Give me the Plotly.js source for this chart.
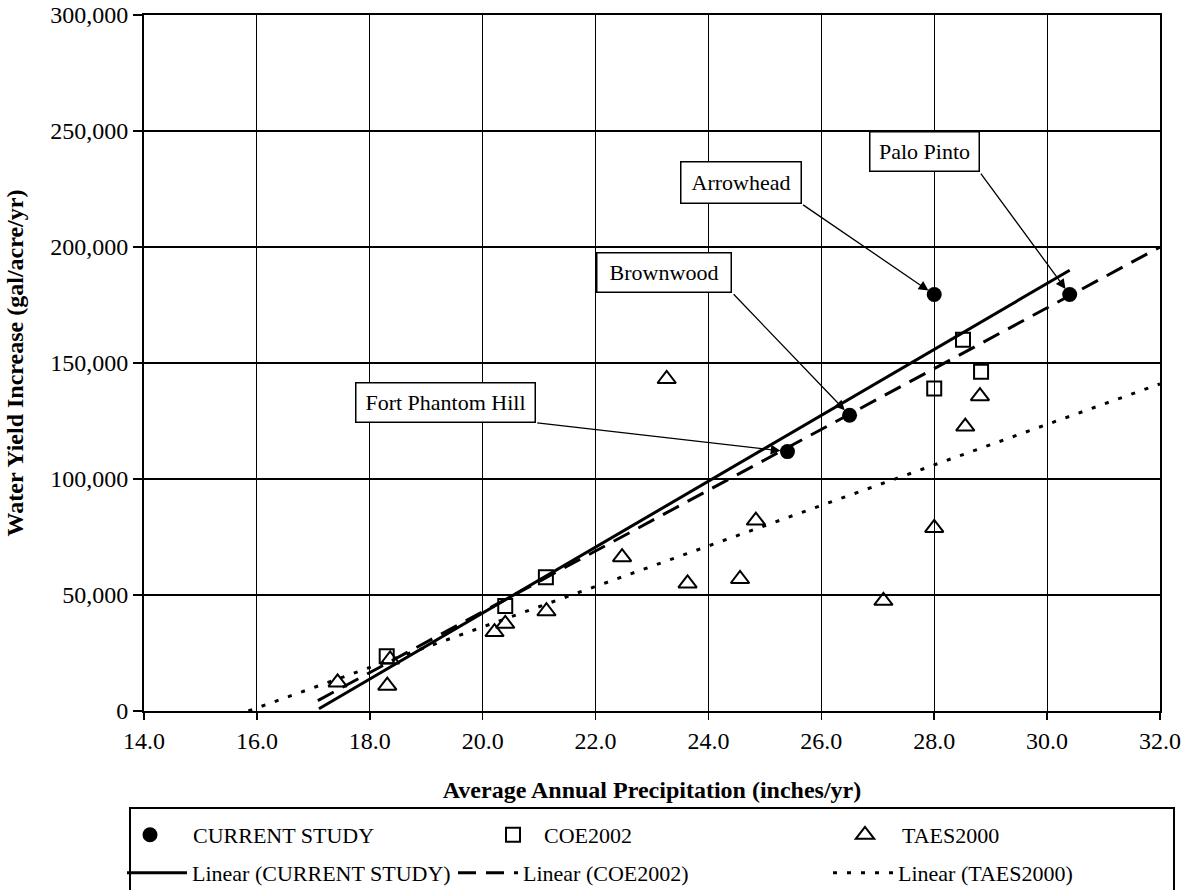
<!DOCTYPE html>
<html><head><meta charset="utf-8">
<script src="https://cdn.plot.ly/plotly-3.0.1.min.js"></script>
<style>html,body{margin:0;padding:0;background:#fff}#chart{width:1193px;height:890px}</style>
</head><body><div id="chart"></div>
<script>
// ---- data ----
const currentX = [25.4, 26.5, 28.0, 30.4];
const currentY = [111800, 127500, 179500, 179500];
const siteNames = ['Fort Phantom Hill', 'Brownwood', 'Arrowhead', 'Palo Pinto'];

const coeX = [18.3, 20.4, 21.12, 28.0, 28.51, 28.83];
const coeY = [23600, 45300, 57600, 139000, 160000, 146200];

const taesX = [17.43, 18.31, 18.36, 20.21, 20.4, 21.13, 22.47, 23.26, 23.63, 24.56, 24.84, 27.1, 28.0, 28.55, 28.81];
const taesY = [12300, 10900, 22200, 34000, 37600, 43000, 66300, 143100, 55000, 56900, 82100, 47500, 78900, 122600, 135700];

const trendCurrentX = [17.1, 30.4];
const trendCurrentY = [1000, 190000];
const trendCoeX = [17.08, 32.0];
const trendCoeY = [4500, 200000];
const trendTaesX = [15.85, 32.0];
const trendTaesY = [0, 141000];

const seriesNames = ['CURRENT STUDY', 'COE2002', 'TAES2000',
  'Linear (CURRENT STUDY)', 'Linear (COE2002)', 'Linear (TAES2000)'];

const xTickVals = [14, 16, 18, 20, 22, 24, 26, 28, 30, 32];
const yTickVals = [0, 50000, 100000, 150000, 200000, 250000, 300000];

// ---- layout geometry ----
const W = 1193, H = 890, ML = 144, MR = 33, MT = 15, MB = 179;
const PW = W - ML - MR, PH = H - MT - MB;
const pxX = px => (px - ML) / PW;
const pxY = py => (H - MB - py) / PH;
const FONT = '"Liberation Serif", "Times New Roman", serif';

const traces = [
  {x: trendCurrentX, y: trendCurrentY, mode: 'lines', name: seriesNames[3], legend: 'legend4',
   line: {color: '#000', width: 3}},
  {x: trendCoeX, y: trendCoeY, mode: 'lines', name: seriesNames[4], legend: 'legend5',
   line: {color: '#000', width: 3, dash: '18px,10px'}},
  {x: trendTaesX, y: trendTaesY, mode: 'lines', name: seriesNames[5], legend: 'legend6',
   line: {color: '#000', width: 3, dash: '4px,10px'}},
  {x: currentX, y: currentY, mode: 'markers', name: seriesNames[0], legend: 'legend',
   marker: {symbol: 'circle', size: 15, color: '#000'}},
  {x: coeX, y: coeY, mode: 'markers', name: seriesNames[1], legend: 'legend2',
   marker: {symbol: 'square-open', size: 14, color: '#000', line: {width: 2, color: '#000'}}},
  {x: taesX, y: taesY, mode: 'markers', name: seriesNames[2], legend: 'legend3',
   marker: {symbol: 'triangle-up-open', size: 16, color: '#000', line: {width: 2, color: '#000'}}}
];

function leg(xpx, ypx, iw) {
  return {x: pxX(xpx), y: pxY(ypx), xanchor: 'left', yanchor: 'middle', orientation: 'h',
    bgcolor: 'rgba(0,0,0,0)', borderwidth: 0, itemwidth: iw || 30,
    font: {family: FONT, size: 22, color: '#000'}};
}

// label boxes (data coords of centre) and arrow tails
const boxes = [
  {cx: 19.34, cy: 132900, w: 178, h: 38, tx: 20.94, ty: 124300},
  {cx: 23.22, cy: 188900, w: 133, h: 38, tx: 24.42, ty: 180300},
  {cx: 24.58, cy: 227800, w: 119, h: 40, tx: 25.65, ty: 218600},
  {cx: 27.82, cy: 241000, w: 108, h: 38, tx: 28.80, ty: 232500}
];
const annotations = [];
boxes.forEach((b, i) => {
  annotations.push({x: currentX[i], y: currentY[i], xref: 'x', yref: 'y',
    ax: b.tx, ay: b.ty, axref: 'x', ayref: 'y', text: ' ', font: {size: 1},
    showarrow: true, arrowhead: 2, arrowsize: 1.5, arrowwidth: 1.3, arrowcolor: '#000', standoff: 7});
  annotations.push({x: b.cx, y: b.cy, xref: 'x', yref: 'y', text: siteNames[i], showarrow: false,
    bgcolor: '#fff', bordercolor: '#000', borderwidth: 1.5, borderpad: 0, width: b.w, height: b.h,
    font: {family: FONT, size: 22, color: '#000'}});
});

const layout = {
  width: W, height: H, showlegend: true,
  margin: {l: ML, r: MR, t: MT, b: MB, autoexpand: false},
  paper_bgcolor: '#fff', plot_bgcolor: '#fff',
  font: {family: FONT, size: 22, color: '#000'},
  xaxis: {range: [14, 32], tickvals: xTickVals, tickformat: '.1f',
    showgrid: true, gridcolor: '#000', gridwidth: 1, zeroline: false,
    showline: true, linecolor: '#000', linewidth: 2, mirror: true,
    ticks: 'outside', ticklen: 7, tickwidth: 1.5, tickcolor: '#000',
    tickfont: {family: FONT, size: 24, color: '#000'},
    title: {text: '<b>Average Annual Precipitation (inches/yr)</b>', standoff: 28,
      font: {family: FONT, size: 24, color: '#000'}}},
  yaxis: {range: [0, 300000], tickvals: yTickVals, tickformat: ',d',
    showgrid: true, gridcolor: '#000', gridwidth: 2, zeroline: false,
    showline: true, linecolor: '#000', linewidth: 2, mirror: true,
    ticks: 'outside', ticklen: 9, tickwidth: 1.5, tickcolor: '#000',
    tickfont: {family: FONT, size: 24, color: '#000'},
    title: {text: '<b>Water Yield Increase (gal/acre/yr)</b>', standoff: 20,
      font: {family: FONT, size: 24, color: '#000'}}},
  legend: leg(107, 835, 76),
  legend2: leg(482, 835, 52),
  legend3: leg(828, 835, 64),
  legend4: leg(122, 873, 60),
  legend5: leg(453, 873, 60),
  legend6: leg(828, 873, 60),
  shapes: [{type: 'rect', xref: 'paper', yref: 'paper',
    x0: pxX(130), x1: pxX(1174), y0: pxY(808), y1: pxY(905),
    line: {color: '#000', width: 2}, fillcolor: 'rgba(0,0,0,0)'}],
  annotations: annotations
};

Plotly.newPlot('chart', traces, layout, {displayModeBar: false, staticPlot: true});
</script>
</body></html>
